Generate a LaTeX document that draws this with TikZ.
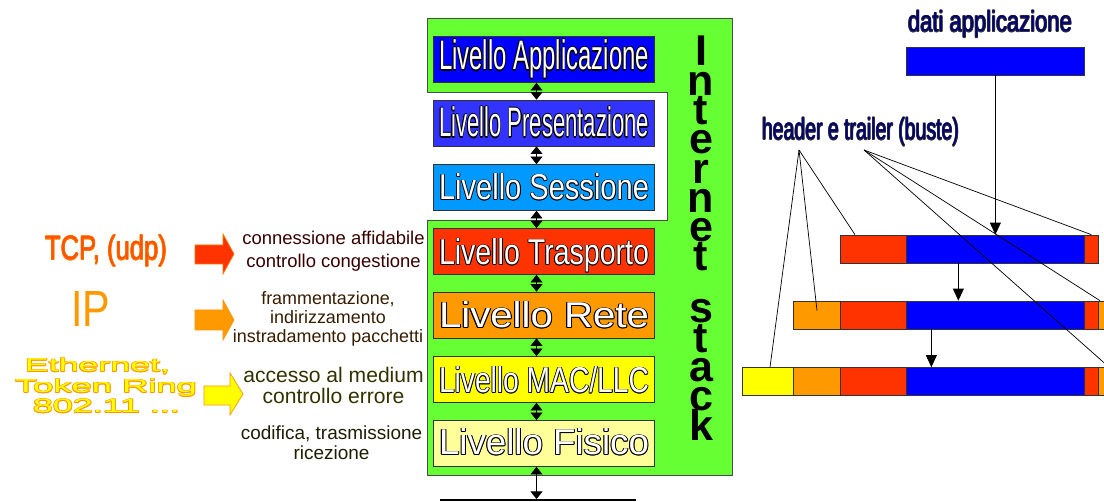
\documentclass[tikz,border=0pt]{standalone}
\usepackage{fontspec}
\setmainfont{Liberation Sans}
\usepackage{graphicx}
\usetikzlibrary{arrows.meta}

\newlength\px
\setlength\px{0.02cm}
\setlength\lineskiplimit{-20pt}

\definecolor{stackgreen}{RGB}{102,255,51}
\definecolor{appblue}{RGB}{0,0,255}
\definecolor{presblue}{RGB}{51,51,255}
\definecolor{sessblue}{RGB}{0,153,255}
\definecolor{trred}{RGB}{255,51,0}
\definecolor{reteor}{RGB}{255,153,0}
\definecolor{macyel}{RGB}{255,255,0}
\definecolor{fisyel}{RGB}{255,255,153}
\definecolor{tcpfill}{RGB}{255,85,0}
\definecolor{tcpedge}{RGB}{255,120,0}
\definecolor{ipfill}{RGB}{255,153,0}
\definecolor{ethfill}{RGB}{255,255,0}
\definecolor{ethedge}{RGB}{255,150,0}
\definecolor{dred}{RGB}{55,0,0}
\definecolor{dbrown}{RGB}{55,28,0}
\definecolor{dolive}{RGB}{50,50,0}
\definecolor{ddark}{RGB}{30,30,5}
\definecolor{labnavy}{RGB}{0,0,120}

\newcommand\outl[4][.55pt]{{\setbox0=\hbox{#4}%
  \dimen0=#1\dimen2=\dimexpr#1*72/100\relax
  \def\sh##1##2{\rlap{\kern##1\raise##2\hbox{\color{#2}\copy0}}}%
  \sh{\dimen0}{0pt}\sh{-\dimen0}{0pt}\sh{0pt}{\dimen0}\sh{0pt}{-\dimen0}%
  \sh{\dimen2}{\dimen2}\sh{-\dimen2}{\dimen2}\sh{\dimen2}{-\dimen2}\sh{-\dimen2}{-\dimen2}%
  \hbox{\color{#3}\copy0}}}
\newcommand\fit[3]{\resizebox{#1\px}{#2\px}{#3}}
\newcommand\lvtxt[2]{\fit{210}{#1}{\outl{black}{white}{#2}}}

\tikzset{
  layer/.style={draw=black!80, minimum width=221\px, minimum height=46\px, inner sep=0},
  lvlabel/.style={anchor=base, inner sep=0, font=\fontsize{20}{24}\selectfont},
  bigtext/.style={anchor=base, inner sep=0, font=\fontsize{20}{24}\selectfont},
  ethlabel/.style={anchor=base, inner sep=0, font=\fontsize{12}{14}\selectfont},
  stacktext/.style={anchor=north, inner sep=0, align=center,
    font=\fontsize{24.5}{16.67}\selectfont\bfseries},
  desc/.style={align=center, inner sep=0},
  seg/.style={draw=black!80, minimum height=28\px, inner sep=0, anchor=west},
  updown/.style={{Triangle[length=4.3pt,width=6.8pt]}-{Triangle[length=4.3pt,width=6.8pt]}},
  pushdown/.style={-{Triangle[length=6.8pt,width=6.2pt]}}
}

\begin{document}
\begin{tikzpicture}[x=0.02cm,y=-0.02cm]

  \useasboundingbox (0,0) rectangle (1104,502);
  \clip (0,0) rectangle (1104,502);

  \filldraw[fill=stackgreen, draw=black!70] (427,18) -- (732,18) -- (732,475) -- (427,475)
    -- (427,220) -- (667,220) -- (667,92) -- (427,92) -- cycle;

  \node[layer, fill=appblue] (app) at (543.5,59.5) {};
  \node[layer, fill=presblue] (pres) at (543.5,123) {};
  \node[layer, fill=sessblue] (sess) at (543.5,187.5) {};
  \node[layer, fill=trred] (trasp) at (543.5,251.5) {};
  \node[layer, fill=reteor] (rete) at (543.5,315) {};
  \node[layer, fill=macyel] (mac) at (543.5,379.5) {};
  \node[layer, fill=fisyel] (fis) at (543.5,443.5) {};

  \node[lvlabel] (appl) at (544,70) {\lvtxt{31}{Livello Applicazione}};
  \node[lvlabel] (presl) at (544,137) {\lvtxt{31}{Livello Presentazione}};
  \node[lvlabel] (sessl) at (544,200) {\lvtxt{27}{Livello Sessione}};
  \node[lvlabel] (traspl) at (544,265) {\lvtxt{27}{Livello Trasporto}};
  \node[lvlabel] (retel) at (544,328) {\lvtxt{27}{Livello Rete}};
  \node[lvlabel] (macl) at (544,393) {\lvtxt{27}{Livello MAC/LLC}};
  \node[lvlabel] (fisl) at (544,455) {\lvtxt{27}{Livello Fisico}};

  \draw[updown] ([xshift=-7\px]app.south) -- ([xshift=-7\px]pres.north);
  \draw[updown] ([xshift=-7\px]pres.south) -- ([xshift=-7\px]sess.north);
  \draw[updown] ([xshift=-7\px]sess.south) -- ([xshift=-7\px]trasp.north);
  \draw[updown] ([xshift=-7\px]trasp.south) -- ([xshift=-7\px]rete.north);
  \draw[updown] ([xshift=-7\px]rete.south) -- ([xshift=-7\px]mac.north);
  \draw[updown] ([xshift=-7\px]mac.south) -- ([xshift=-7\px]fis.north);

  \coordinate (medl) at (440,500);
  \coordinate (medr) at (636,500);
  \coordinate (medc) at (536.5,499);
  \draw[line width=2.5\px] (medl) -- (medr);
  \draw[updown] ([xshift=-7\px]fis.south) -- (medc);

  \node[stacktext] (inet) at (701,36)
    {I\\n\\t\\e\\r\\n\\e\\t\\[12.9pt]s\\t\\a\\c\\k};

  \node[bigtext] (tcp) at (106,260) {\fit{122}{25}{\outl[.3pt]{tcpedge}{tcpfill}{TCP, (udp)}}};
  \node[bigtext, text=ipfill] (ip) at (90.5,327) {\fit{39}{35}{IP}};
  \node[ethlabel] (eth1) at (97.5,372) {\fit{145}{14}{\outl[.3pt]{ethedge}{ethfill}{Ethernet,}}};
  \node[ethlabel] (eth2) at (106,393) {\fit{182}{14}{\outl[.3pt]{ethedge}{ethfill}{Token Ring}}};
  \node[ethlabel] (eth3) at (106.5,413) {\fit{147}{14}{\outl[.3pt]{ethedge}{ethfill}{802.11 ...}}};

  \filldraw[fill=trred, draw=tcpedge] (195,245) -- ++(28,0) -- ++(0,-11) -- ++(11,20)
    -- ++(-11,20) -- ++(0,-10) -- ++(-28,0) -- cycle;
  \filldraw[fill=reteor, draw=ethedge] (195,310) -- ++(28,0) -- ++(0,-10) -- ++(11,20)
    -- ++(-11,20) -- ++(0,-10) -- ++(-28,0) -- cycle;
  \filldraw[fill=macyel, draw=ethedge] (204,386) -- ++(26,0) -- ++(0,-13) -- ++(13,21)
    -- ++(-13,21) -- ++(0,-10) -- ++(-26,0) -- cycle;

  \node[desc, text=dred, font=\fontsize{10.5}{13}\selectfont] (tcpd) at (333.5,251.5)
    {connessione affidabile\\controllo congestione};
  \node[desc, text=dbrown, font=\fontsize{10.2}{10.9}\selectfont] (ipd) at (328,319)
    {frammentazione,\\indirizzamento\\instradamento pacchetti};
  \node[desc, text=dolive, font=\fontsize{12}{12}\selectfont] (macd) at (333.5,385.5)
    {accesso al medium\\controllo errore};
  \node[desc, text=ddark, font=\fontsize{10.8}{11.4}\selectfont] (fisd) at (331.5,443)
    {codifica, trasmissione\\ricezione};

  \node[bigtext] (datil) at (990,32) {\fit{164}{22}{\outl{black!80}{labnavy}{dati applicazione}}};
  \node[seg, fill=appblue, minimum width=178\px] (dati) at (906,61) {};

  \node[seg, fill=trred, minimum width=66\px] (r1h) at (840,249) {};
  \node[seg, fill=appblue, minimum width=178\px] (r1d) at (906,249) {};
  \node[seg, fill=trred, minimum width=14\px] (r1t) at (1084,249) {};

  \node[seg, fill=reteor, minimum width=47\px] (r2h) at (793,315) {};
  \node[seg, fill=trred, minimum width=66\px] (r2n) at (840,315) {};
  \node[seg, fill=appblue, minimum width=178\px] (r2d) at (906,315) {};
  \node[seg, fill=trred, minimum width=14\px] (r2r) at (1084,315) {};
  \node[seg, fill=reteor, minimum width=47\px] (r2t) at (1098,315) {};

  \node[seg, fill=macyel, minimum width=51\px] (r3h) at (742,381.5) {};
  \node[seg, fill=reteor, minimum width=47\px] (r3o) at (793,381.5) {};
  \node[seg, fill=trred, minimum width=66\px] (r3n) at (840,381.5) {};
  \node[seg, fill=appblue, minimum width=178\px] (r3d) at (906,381.5) {};
  \node[seg, fill=trred, minimum width=14\px] (r3r) at (1084,381.5) {};
  \node[seg, fill=reteor, minimum width=47\px] (r3q) at (1098,381.5) {};
  \node[seg, fill=macyel, minimum width=51\px] (r3t) at (1145,381.5) {};

  \draw[pushdown] (dati) -- (r1d);
  \draw[pushdown] ([xshift=-37\px]r1d.south) -- ([xshift=-37\px]r2d.north);
  \draw[pushdown] ([xshift=-64\px]r2d.south) -- ([xshift=-64\px]r3d.north);

  \node[bigtext] (hdrl) at (860.5,140) {\fit{197}{23}{\outl{black!80}{labnavy}{header e trailer (buste)}}};
  \coordinate (hl) at (799,150);
  \coordinate (hr) at (864,150);

  \draw (hl) -- ([xshift=15\px]r1h.north west);
  \draw (hl) -- ([xshift=24\px,yshift=-10\px]r2h.north west);
  \draw (hl) -- ([xshift=28\px]r3h.north west);
  \draw (hr) -- (r1t.north);
  \draw (hr) -- ([xshift=2\px]r2t.north west);
  \draw (hr) -- ([xshift=11\px]r3q.north west);

\end{tikzpicture}
\end{document}
